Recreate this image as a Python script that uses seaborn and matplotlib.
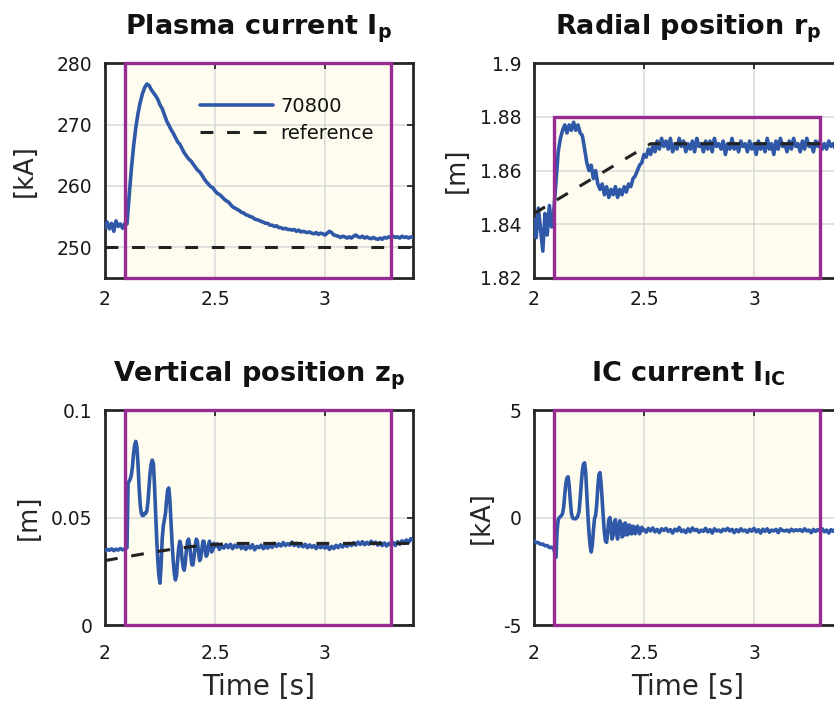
import numpy as np
import matplotlib
matplotlib.use("Agg")
import matplotlib.pyplot as plt
from matplotlib.patches import Rectangle
import seaborn as sns

# ---- data -----------------------------------------------------------------
# time bases [s]: 10 ms everywhere, 5 ms through the transient of z_p / I_IC
t_coarse = np.arange(200, 341) / 100
t_fine = np.concatenate([np.arange(2000, 2100, 10),
                         np.arange(2100, 2500, 5),
                         np.arange(2500, 3401, 10)]) / 1000

ip_shot = [
    253.2, 254.1, 253.0, 253.9, 252.6, 254.3, 253.4, 253.8, 253.1, 253.9,
    253.8, 258.5, 262.8, 266.5, 269.5, 271.8, 273.6, 275.0, 276.0, 276.6,
    276.4, 275.7, 275.2, 274.7, 274.1, 273.2, 272.6, 271.6, 270.6, 269.9,
    269.2, 268.6, 267.9, 267.2, 266.8, 266.1, 265.4, 264.9, 264.4, 264.1,
    263.6, 263.1, 262.6, 262.3, 261.8, 261.2, 260.7, 260.3, 259.9, 259.7,
    259.2, 258.8, 258.6, 258.3, 257.9, 257.6, 257.4, 257.0, 256.6, 256.4,
    256.2, 256.0, 255.7, 255.6, 255.3, 255.2, 255.0, 254.9, 254.6, 254.5,
    254.4, 254.2, 254.1, 253.9, 253.9, 253.6, 253.6, 253.4, 253.5, 253.2,
    253.2, 253.0, 253.1, 252.9, 252.9, 252.8, 252.9, 252.6, 252.8, 252.5,
    252.6, 252.5, 252.4, 252.5, 252.3, 252.2, 252.4, 252.1, 252.3, 252.2,
    252.0, 252.3, 252.6, 252.4, 252.0, 251.9, 251.8, 251.6, 251.8, 251.7,
    251.5, 251.7, 251.5, 251.8, 252.0, 251.7, 251.6, 251.8, 251.5, 251.7,
    251.5, 251.4, 251.6, 251.4, 251.3, 251.5, 251.3, 251.6, 251.5, 251.7,
    251.6, 251.8, 251.6, 251.7, 251.5, 251.8, 251.6, 251.7, 251.5, 251.7,
    251.6,
]
ip_ref_t = [2.0, 3.4]
ip_ref = [250.0, 250.0]

rp_shot = [
    1.842, 1.835, 1.846, 1.838, 1.830, 1.844, 1.836, 1.847, 1.839, 1.845,
    1.856, 1.867, 1.872, 1.875, 1.877, 1.874, 1.877, 1.875, 1.878, 1.875,
    1.877, 1.874, 1.873, 1.868, 1.863, 1.860, 1.862, 1.857, 1.860, 1.855,
    1.853, 1.855, 1.851, 1.854, 1.850, 1.853, 1.851, 1.854, 1.850, 1.853,
    1.851, 1.854, 1.852, 1.855, 1.854, 1.857, 1.858, 1.860, 1.862, 1.863,
    1.866, 1.865, 1.868, 1.866, 1.869, 1.867, 1.871, 1.868, 1.872, 1.869,
    1.871, 1.868, 1.872, 1.867, 1.870, 1.868, 1.872, 1.869, 1.871, 1.867,
    1.870, 1.868, 1.871, 1.867, 1.872, 1.869, 1.870, 1.867, 1.871, 1.868,
    1.871, 1.867, 1.872, 1.869, 1.870, 1.868, 1.871, 1.866, 1.870, 1.868,
    1.872, 1.868, 1.870, 1.867, 1.871, 1.869, 1.870, 1.867, 1.871, 1.868,
    1.870, 1.866, 1.871, 1.868, 1.870, 1.867, 1.872, 1.868, 1.870, 1.866,
    1.871, 1.868, 1.872, 1.869, 1.870, 1.867, 1.871, 1.868, 1.872, 1.869,
    1.870, 1.867, 1.871, 1.868, 1.872, 1.869, 1.870, 1.867, 1.871, 1.869,
    1.871, 1.868, 1.870, 1.868, 1.871, 1.869, 1.870, 1.868, 1.871, 1.869,
    1.870,
]
rp_ref_t = [2.0, 2.53, 3.4]
rp_ref = [1.844, 1.870, 1.870]

zp_shot = [
    0.0345, 0.0352, 0.0348, 0.0355, 0.0346, 0.0353, 0.0349, 0.0356, 0.0350, 0.0354,
    # 5 ms samples, 2.100 .. 2.495
    0.036, 0.066, 0.067, 0.068, 0.070, 0.074, 0.080, 0.084, 0.0855, 0.083,
    0.075, 0.064, 0.056, 0.052, 0.051, 0.051, 0.052, 0.052, 0.053, 0.057,
    0.064, 0.071, 0.075, 0.0768, 0.075, 0.065, 0.052, 0.040, 0.030, 0.023,
    0.0195, 0.028, 0.040, 0.046, 0.049, 0.052, 0.058, 0.063, 0.0638, 0.058,
    0.048, 0.038, 0.030, 0.024, 0.021, 0.023, 0.030, 0.036, 0.039, 0.037,
    0.031, 0.027, 0.0255, 0.029, 0.035, 0.039, 0.040, 0.037, 0.032, 0.028,
    0.028, 0.032, 0.037, 0.040, 0.039, 0.034, 0.030, 0.031, 0.035, 0.039,
    0.039, 0.035, 0.032, 0.033, 0.037, 0.039, 0.037, 0.034, 0.035, 0.038,
    # 10 ms samples, 2.50 .. 3.40
    0.0365, 0.0378, 0.0352, 0.0370, 0.0358, 0.0374, 0.0360, 0.0376, 0.0355, 0.0372,
    0.0362, 0.0378, 0.0356, 0.0370, 0.0352, 0.0368, 0.0358, 0.0374, 0.0350, 0.0366,
    0.0360, 0.0372, 0.0355, 0.0369, 0.0358, 0.0375, 0.0361, 0.0380, 0.0366, 0.0378,
    0.0368, 0.0384, 0.0370, 0.0379, 0.0372, 0.0386, 0.0370, 0.0381, 0.0366, 0.0377,
    0.0364, 0.0376, 0.0360, 0.0373, 0.0362, 0.0370, 0.0356, 0.0372, 0.0360, 0.0368,
    0.0358, 0.0370, 0.0352, 0.0366, 0.0356, 0.0371, 0.0360, 0.0374, 0.0363, 0.0378,
    0.0366, 0.0380, 0.0370, 0.0383, 0.0372, 0.0386, 0.0375, 0.0388, 0.0374, 0.0385,
    0.0376, 0.0390, 0.0378, 0.0386, 0.0372, 0.0384, 0.0370, 0.0382, 0.0368, 0.0380,
    0.0372, 0.0384, 0.0370, 0.0388, 0.0376, 0.0392, 0.0380, 0.0396, 0.0385, 0.0402,
    0.0395,
]
zp_ref_t = [2.0, 2.1, 2.2, 2.3, 2.4, 2.5, 2.6, 3.4]
zp_ref = [0.0300, 0.0318, 0.0336, 0.0352, 0.0366, 0.0375, 0.0380, 0.0380]

ic_shot = [
    -1.08, -1.16, -1.17, -1.24, -1.23, -1.31, -1.30, -1.39, -1.38, -1.46,
    # 5 ms samples, 2.100 .. 2.495
    -1.85, -0.6, -0.1, 0.0, 0.05, 0.1, 0.2, 0.5, 1.1, 1.6,
    1.85, 1.9, 1.5, 0.8, 0.2, 0.0, -0.05, -0.05, -0.05, 0.0,
    0.1, 0.3, 0.9, 1.6, 2.2, 2.5, 2.55, 2.1, 1.1, 0.1,
    -0.7, -1.3, -1.6, -1.3, -0.6, -0.05, 0.1, 0.6, 1.4, 2.0,
    2.1, 1.6, 0.8, 0.0, -0.7, -1.1, -1.15, -0.7, -0.1, 0.0,
    -0.5, -1.0, -0.8, -0.2, -0.1, -0.7, -1.0, -0.5, -0.15, -0.3,
    -0.9, -0.85, -0.3, -0.25, -0.8, -0.8, -0.35, -0.35, -0.75, -0.75,
    -0.4, -0.45, -0.75, -0.65, -0.4, -0.5, -0.75, -0.55, -0.45, -0.6,
    # 10 ms samples, 2.50 .. 3.40
    -0.55, -0.68, -0.50, -0.62, -0.48, -0.66, -0.55, -0.70, -0.52, -0.60,
    -0.50, -0.64, -0.56, -0.72, -0.54, -0.62, -0.46, -0.65, -0.58, -0.70,
    -0.52, -0.66, -0.48, -0.60, -0.55, -0.68, -0.58, -0.64, -0.50, -0.66,
    -0.56, -0.72, -0.52, -0.62, -0.58, -0.66, -0.54, -0.60, -0.50, -0.62,
    -0.55, -0.70, -0.56, -0.66, -0.52, -0.62, -0.58, -0.68, -0.55, -0.63,
    -0.50, -0.66, -0.56, -0.72, -0.54, -0.64, -0.52, -0.68, -0.58, -0.62,
    -0.55, -0.70, -0.52, -0.60, -0.62, -0.58, -0.66, -0.54, -0.62, -0.57,
    -0.60, -0.56, -0.64, -0.52, -0.62, -0.58, -0.70, -0.55, -0.64, -0.56,
    -0.60, -0.52, -0.66, -0.58, -0.72, -0.56, -0.64, -0.54, -0.68, -0.60,
    -0.62,
]

x_ticks = [2, 2.5, 3]
x_tick_labels = ["2", "2.5", "3"]
ip_ticks, ip_tick_labels = [250, 260, 270, 280], ["250", "260", "270", "280"]
rp_ticks = [1.82, 1.84, 1.86, 1.88, 1.9]
rp_tick_labels = ["1.82", "1.84", "1.86", "1.88", "1.9"]
zp_ticks, zp_tick_labels = [0, 0.05, 0.1], ["0", "0.05", "0.1"]
ic_ticks, ic_tick_labels = [-5, 0, 5], ["-5", "0", "5"]

# control window (highlighted box)
win_start, win_end = 2.09, 3.3

assert len(ip_shot) == len(t_coarse) and len(rp_shot) == len(t_coarse)
assert len(zp_shot) == len(t_fine) and len(ic_shot) == len(t_fine)

# ---- style ----------------------------------------------------------------
BLUE = "#2f58a8"
REF = "#222222"
PURPLE = "#962c91"
FILL = "#fdfcee"
DARK = "#262626"
LW = 2.6

sns.set_theme(style="whitegrid")
plt.rcParams["font.family"] = ["DejaVu Sans"]
plt.rcParams["mathtext.fontset"] = "dejavusans"
plt.rcParams["lines.dashed_pattern"] = [4.2, 4.5]
plt.rcParams["text.color"] = "#111111"

fig = plt.figure(figsize=(8.34, 7.1), dpi=100)

W = 308 / 834
H = 0.3025
axes_pos = {
    "ip": [105 / 834, 0.6085, W, H],
    "rp": [534 / 834, 0.6085, W, H],
    "zp": [105 / 834, 0.1197, W, H],
    "ic": [534 / 834, 0.1197, W, H],
}


def style_axes(ax, ylim, yticks, ylabels, title, ylabel, bottom_row, ylab_x):
    ax.set_facecolor("white")
    ax.set_xlim(2, 3.4)
    ax.set_ylim(*ylim)
    ax.set_xticks(x_ticks)
    ax.set_xticklabels(x_tick_labels)
    ax.set_yticks(yticks)
    ax.set_yticklabels(ylabels)
    ax.grid(True, color="#d9d9d9", linewidth=1.1)
    ax.set_axisbelow(True)
    for s in ax.spines.values():
        s.set_color(DARK)
        s.set_linewidth(2.0)
    ax.tick_params(direction="in", length=4, width=1.3, color=DARK,
                   top=True, right=True, labelsize=13.5, labelcolor="#1a1a1a")
    ax.tick_params(axis="y", pad=9)
    ax.tick_params(axis="x", pad=14 if bottom_row else 8.5)
    ax.set_title(title, fontsize=19.5, fontweight="bold", pad=21)
    ax.set_ylabel(ylabel, fontsize=18.5)
    ax.yaxis.set_label_coords(ylab_x, 0.5)
    if bottom_row:
        ax.set_xlabel("Time [s]", fontsize=20)
        ax.xaxis.set_label_coords(0.5, -0.225)
    else:
        ax.set_xlabel("")


def add_window(ax, y0, y1):
    ax.add_patch(Rectangle((win_start, y0), win_end - win_start, y1 - y0,
                           facecolor=FILL, edgecolor="none", zorder=0.2))
    ax.add_patch(Rectangle((win_start, y0), win_end - win_start, y1 - y0,
                           facecolor="none", edgecolor=PURPLE, linewidth=2.4,
                           zorder=4, clip_on=False))


# plasma current
ax = fig.add_axes(axes_pos["ip"])
add_window(ax, 245, 280)
sns.lineplot(x=t_coarse, y=ip_shot, ax=ax, color=BLUE, lw=LW, sort=False,
             estimator=None, label="70800", zorder=3)
sns.lineplot(x=ip_ref_t, y=ip_ref, ax=ax, color=REF, lw=2.2, linestyle="--",
             sort=False, estimator=None, label="reference", zorder=5)
style_axes(ax, (245, 280), ip_ticks, ip_tick_labels,
           "Plasma current $\\mathbf{I_p}$", "[kA]", False, -0.2175)
ax.legend(loc="upper left", bbox_to_anchor=(0.308, 0.842), frameon=False,
          fontsize=14, borderpad=0, borderaxespad=0, handlelength=3.76,
          handletextpad=0.36, labelspacing=0.38)

# radial position
ax = fig.add_axes(axes_pos["rp"])
add_window(ax, 1.82, 1.88)
sns.lineplot(x=t_coarse, y=rp_shot, ax=ax, color=BLUE, lw=LW, sort=False,
             estimator=None, legend=False, zorder=3)
sns.lineplot(x=rp_ref_t, y=rp_ref, ax=ax, color=REF, lw=2.2, linestyle="--",
             sort=False, estimator=None, legend=False, zorder=5)
style_axes(ax, (1.82, 1.9), rp_ticks, rp_tick_labels,
           "Radial position $\\mathbf{r_p}$", "[m]", False, -0.208)

# vertical position
ax = fig.add_axes(axes_pos["zp"])
add_window(ax, 0, 0.1)
sns.lineplot(x=t_fine, y=zp_shot, ax=ax, color=BLUE, lw=LW, sort=False,
             estimator=None, legend=False, zorder=3)
sns.lineplot(x=zp_ref_t, y=zp_ref, ax=ax, color=REF, lw=2.2, linestyle="--",
             sort=False, estimator=None, legend=False, zorder=5)
style_axes(ax, (0, 0.1), zp_ticks, zp_tick_labels,
           "Vertical position $\\mathbf{z_p}$", "[m]", True, -0.2045)

# IC current
ax = fig.add_axes(axes_pos["ic"])
add_window(ax, -5, 5)
sns.lineplot(x=t_fine, y=ic_shot, ax=ax, color=BLUE, lw=LW, sort=False,
             estimator=None, legend=False, zorder=3)
style_axes(ax, (-5, 5), ic_ticks, ic_tick_labels,
           "IC current $\\mathbf{I_{IC}}$", "[kA]", True, -0.1266)

fig.savefig("out.png", dpi=100)
